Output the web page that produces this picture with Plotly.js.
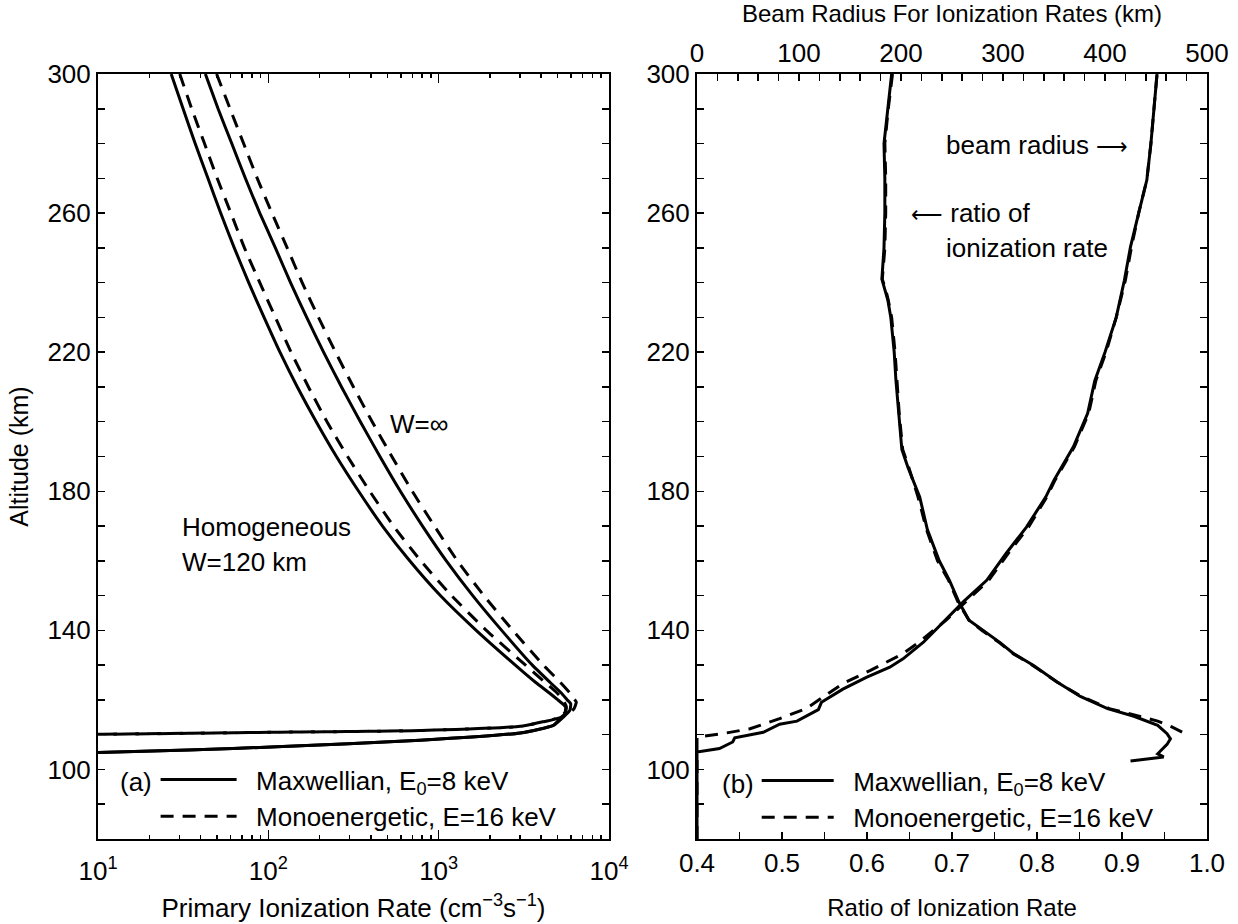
<!DOCTYPE html>
<html>
<head>
<meta charset="utf-8">
<script src="https://cdn.plot.ly/plotly-3.0.1.min.js"></script>
<style>html,body{margin:0;padding:0;background:#fff;}#chart{width:1238px;height:924px;}</style>
</head>
<body>
<div id="chart"></div>
<script>
// ---------- Panel (a): primary ionization rate vs altitude ----------
// Homogeneous, W=120 km, Maxwellian E0=8 keV (solid)
const altHomMax = [300,290,280,270,260,250,240,230,220,210,200,190,180,170,160,150,140,130,125,122,120,118,116,115,112.7,110.5,108.4,106.5,105.6,104.9];
const rateHomMax = [26.9,31.6,37.2,44.2,52.5,63.1,76.7,94.4,117,148,191,251,339,468,676,1023,1660,2818,3715,4467,5012,5559,5495,5248,4721,3013,778,112,33.9,10];
// Homogeneous, W=120 km, Monoenergetic E=16 keV (dashed)
const altHomMono = [300,290,280,270,260,250,240,230,220,210,200,190,180,170,160,150,140,130,125,122,120,118,116.5,115.5,114.4,112.4,111.2,110.7,110.4,110.1];
const rateHomMono = [30.2,35.5,42.2,50.1,60.3,72.4,89.1,110,136,172,221,292,394,543,785,1189,1905,3236,4217,4955,5370,5623,5559,5248,4721,3013,778,112,34,10];
// W=infinity, Maxwellian (solid)
const altInfMax = [300,290,280,270,260,250,240,230,220,210,200,190,180,170,160,150,140,130,125,122,120,118.9,117,115.2,112.7,110.5,108.4,106.5,105.6,104.9];
const rateInfMax = [42.7,50.7,61.0,73.3,89.1,110,135,168,211,269,347,452,596,804,1109,1585,2344,3548,4519,5248,5689,5957,5888,5433,4721,3013,778,112,33.9,10];
// W=infinity, Monoenergetic (dashed)
const altInfMono = [300,290,280,270,260,250,240,230,220,210,200,190,180,170,160,150,140,130,125,122,120,119.4,117.5,116,115,114.4,112.4,111.2,110.7,110.4,110.1];
const rateInfMono = [49.7,59.6,71.6,86.1,105,129,158,197,248,316,407,531,700,944,1288,1841,2723,4121,5188,5888,6310,6427,6237,5754,5248,4721,3013,778,112,34,10];

// ---------- Panel (b): ratio of ionization rate and beam radius ----------
const altRatioMax = [300,290,280,270,260,250,241,238,235,230,220,212,202,192,187,178.4,169,160,154.4,148.2,142.9,140,136.4,133.3,129.9,125.1,121,117.5,115.3,112.7,110.3,108.8,107.2,104.5,103.6,102.4];
const ratioMax = [0.629,0.6245,0.620,0.621,0.621,0.620,0.6175,0.621,0.6245,0.628,0.632,0.634,0.6375,0.641,0.648,0.662,0.671,0.685,0.697,0.708,0.720,0.736,0.757,0.7725,0.796,0.824,0.851,0.883,0.914,0.942,0.953,0.957,0.953,0.942,0.949,0.910];
const altRatioMono = [300,290,280,270,260,250,241,238,235,230,220,212,202,192,187,178.4,169,160,154.4,148.2,142.9,140,136.4,133.3,129.9,125.1,121,117.5,115.3,113.9,112.3,110.7];
const ratioMono = [0.630,0.625,0.621,0.622,0.622,0.621,0.618,0.622,0.625,0.629,0.633,0.635,0.638,0.642,0.649,0.660,0.670,0.683,0.696,0.707,0.720,0.735,0.756,0.772,0.795,0.824,0.852,0.885,0.918,0.942,0.958,0.971];
const altRadiusMax = [80,105,106,107.9,109.1,110.7,113,113.9,117.2,119.3,123.1,126.5,129.4,131.8,136.6,142.9,148.2,154.4,162.1,169.7,178.4,183.2,192.8,202.4,211.8,220,230,240.7,250.3,260,269.5,280,290,300];
const radiusMax = [0,0,22,35,37,65,81,98,119,122,143,166,189,202,222,243,261,284,303,323,342,350,369,383,390,400,411,419,425,433,441,445,448,451];
const altRadiusMono = [80,109.3,110.3,111.7,114.6,117.5,124.7,128.5,133.3,136.9,142.9,148.2,154.4,162.1,169.7,178.4,183.2,192.8,202.4,211.8,220,230,240.7,250.3,260,269.5,280,290,300];
const radiusMono = [0,0,25,52,81,107,143,170,202,219,244,263,286,305,325,343,351,370,384,391,401,411,420,426,433,441,445,448,451];

// ---------- ticks / labels ----------
const altTicks = [100,140,180,220,260,300];
const rateTicks = [10,100,1000,10000];
const rateTickText = ['10<sup>1</sup>','10<sup>2</sup>','10<sup>3</sup>','10<sup>4</sup>'];
const rateMinor = [20,30,40,50,60,70,80,90,200,300,400,500,600,700,800,900,2000,3000,4000,5000,6000,7000,8000,9000];
const ratioTicks = [0.4,0.5,0.6,0.7,0.8,0.9,1.0];
const ratioTickText = ['0.4','0.5','0.6','0.7','0.8','0.9','1.0'];
const radiusTicks = [0,100,200,300,400,500];
const NB = '\u00A0\u00A0';
const legendMax = NB + 'Maxwellian, E<sub>0</sub>=8 keV';
const legendMono = NB + 'Monoenergetic, E=16 keV';

// ---------- geometry ----------
const W = 1238, H = 924;
const PL = 98, PR = 1207, PT = 74, PB = 839;
const pw = PR - PL;
const FONT = 'Liberation Sans, Arial, Helvetica, sans-serif';
const FS = 26;
const DASH = '13px,9px';
const LW = 3;

const solid = {color:'#000', width:LW, dash:'solid', shape:'spline', smoothing:0.5};
const dashed = {color:'#000', width:LW, dash:DASH, shape:'spline', smoothing:0.5};
const solidL = {color:'#000', width:LW, dash:'solid', shape:'linear'};
const dashedL = {color:'#000', width:LW, dash:DASH, shape:'linear'};

const traces = [
  {x:rateHomMax, y:altHomMax, xaxis:'x', yaxis:'y', mode:'lines', line:solid, name:legendMax, legend:'legend', showlegend:true},
  {x:rateHomMono, y:altHomMono, xaxis:'x', yaxis:'y', mode:'lines', line:dashed, name:legendMono, legend:'legend', showlegend:true},
  {x:rateInfMax, y:altInfMax, xaxis:'x', yaxis:'y', mode:'lines', line:solid, name:legendMax, showlegend:false},
  {x:rateInfMono, y:altInfMono, xaxis:'x', yaxis:'y', mode:'lines', line:dashed, name:legendMono, showlegend:false},

  {x:ratioMax, y:altRatioMax, xaxis:'x2', yaxis:'y2', mode:'lines', line:solidL, name:legendMax, legend:'legend2', showlegend:true},
  {x:ratioMono, y:altRatioMono, xaxis:'x2', yaxis:'y2', mode:'lines', line:dashedL, name:legendMono, legend:'legend2', showlegend:true},
  {x:radiusMax, y:altRadiusMax, xaxis:'x3', yaxis:'y2', mode:'lines', line:solidL, name:legendMax, showlegend:false},
  {x:radiusMono, y:altRadiusMono, xaxis:'x3', yaxis:'y2', mode:'lines', line:dashedL, name:legendMono, showlegend:false}
];

const axBase = {
  showline:true, linecolor:'#000', linewidth:2, ticks:'inside', ticklen:7, tickwidth:1.5, tickcolor:'#000',
  showgrid:false, zeroline:false, automargin:false, tickfont:{family:FONT, size:FS, color:'#000'}
};

const d1 = [0, (609-PL)/pw];
const d2 = [(697-PL)/pw, 1];

const layout = {
  width:W, height:H,
  margin:{l:PL, r:W-PR, t:PT, b:H-PB, pad:0},
  paper_bgcolor:'#fff', plot_bgcolor:'#fff',
  font:{family:FONT, size:FS, color:'#000'},
  showlegend:true,
  xaxis: Object.assign({}, axBase, {
    domain:d1, anchor:'y', type:'log', range:[1,4], mirror:'allticks',
    tickmode:'array', tickvals:rateTicks, ticktext:rateTickText, ticklen:9, ticklabelstandoff:8,
    minor:{tickmode:'array', tickvals:rateMinor, ticks:'inside', ticklen:4, tickwidth:1.5, tickcolor:'#000'},
    title:{text:'Primary Ionization Rate (cm<sup>−3</sup>s<sup>−1</sup>)', font:{family:FONT, size:26}, standoff:14}
  }),
  yaxis: Object.assign({}, axBase, {
    domain:[0,1], anchor:'x', range:[80,300], mirror:'allticks',
    tickmode:'array', tickvals:altTicks,
    minor:{dtick:10, tick0:0, ticks:'inside', ticklen:7, tickwidth:1.5, tickcolor:'#000'},
    title:{text:'Altitude (km)', font:{family:FONT, size:25}, standoff:12}
  }),
  xaxis2: Object.assign({}, axBase, {
    domain:d2, anchor:'y2', range:[0.4,1.0], mirror:false,
    tickmode:'array', tickvals:ratioTicks, ticktext:ratioTickText,
    minor:{dtick:0.05, tick0:0, ticks:'inside', ticklen:7, tickwidth:1.5, tickcolor:'#000'},
    title:{text:'Ratio of Ionization Rate', font:{family:FONT, size:24}, standoff:22}
  }),
  xaxis3: Object.assign({}, axBase, {
    overlaying:'x2', anchor:'y2', side:'top', range:[0,500], mirror:false,
    tickmode:'array', tickvals:radiusTicks,
    minor:{dtick:20, tick0:0, ticks:'inside', ticklen:7, tickwidth:1.5, tickcolor:'#000'},
    title:{text:'Beam Radius For Ionization Rates (km)', font:{family:FONT, size:24}, standoff:8}
  }),
  yaxis2: Object.assign({}, axBase, {
    domain:[0,1], anchor:'x2', range:[80,300], mirror:'allticks',
    tickmode:'array', tickvals:altTicks,
    minor:{dtick:10, tick0:0, ticks:'inside', ticklen:7, tickwidth:1.5, tickcolor:'#000'}
  }),
  legend:{
    x:(155.6-PL)/pw, y:(PB-798)/(PB-PT), xanchor:'left', yanchor:'middle',
    bgcolor:'rgba(0,0,0,0)', borderwidth:0, itemwidth:76,
    font:{family:FONT, size:FS, color:'#000'}, tracegroupgap:0
  },
  legend2:{
    x:(756.7-PL)/pw, y:(PB-799)/(PB-PT), xanchor:'left', yanchor:'middle',
    bgcolor:'rgba(0,0,0,0)', borderwidth:0, itemwidth:72,
    font:{family:FONT, size:FS, color:'#000'}, tracegroupgap:0
  },
  annotations:[
    {xref:'x domain', yref:'y domain', x:0.568, y:0.543, text:'W=∞', showarrow:false, xanchor:'left', yanchor:'middle', font:{family:FONT,size:FS}},
    {xref:'x domain', yref:'y domain', x:0.161, y:0.408, text:'Homogeneous', showarrow:false, xanchor:'left', yanchor:'middle', font:{family:FONT,size:FS}},
    {xref:'x domain', yref:'y domain', x:0.161, y:0.362, text:'W=120 km', showarrow:false, xanchor:'left', yanchor:'middle', font:{family:FONT,size:FS}},
    {xref:'x domain', yref:'y domain', x:0.0386, y:0.074, text:'(a)', showarrow:false, xanchor:'left', yanchor:'middle', font:{family:FONT,size:FS}},
    {xref:'x2 domain', yref:'y2 domain', x:0.0446, y:0.072, text:'(b)', showarrow:false, xanchor:'left', yanchor:'middle', font:{family:FONT,size:FS}},
    {xref:'x2 domain', yref:'y2 domain', x:0.484, y:0.907, text:'beam radius <span style="font-size:22px">⟶</span>', showarrow:false, xanchor:'left', yanchor:'middle', font:{family:FONT,size:FS}},
    {xref:'x2 domain', yref:'y2 domain', x:0.416, y:0.818, text:'<span style="font-size:22px">⟵</span> ratio of', showarrow:false, xanchor:'left', yanchor:'middle', font:{family:FONT,size:FS}},
    {xref:'x2 domain', yref:'y2 domain', x:0.484, y:0.772, text:'ionization rate', showarrow:false, xanchor:'left', yanchor:'middle', font:{family:FONT,size:FS}}
  ]
};

Plotly.newPlot('chart', traces, layout, {staticPlot:true, displayModeBar:false});
</script>
</body>
</html>
